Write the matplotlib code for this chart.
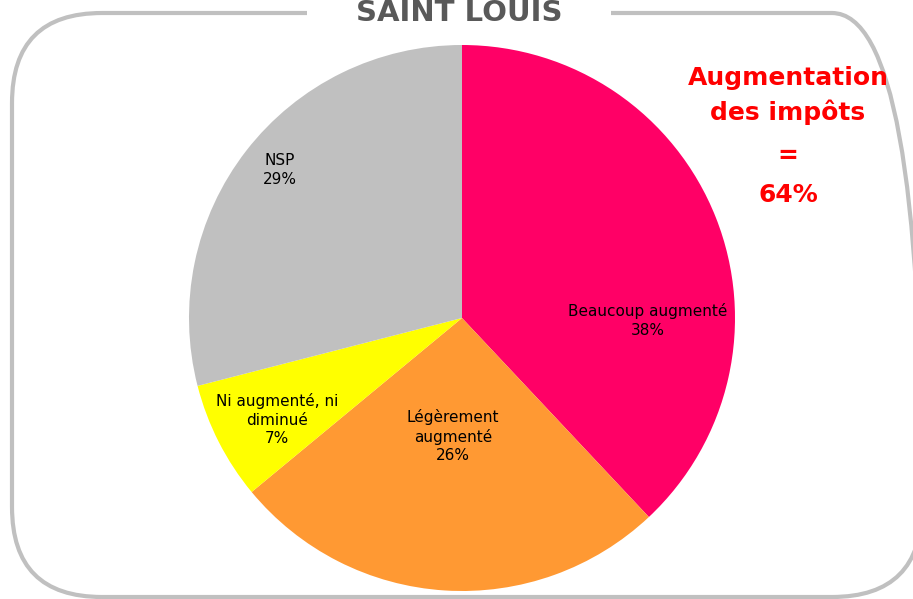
import matplotlib.pyplot as plt
from matplotlib.patches import FancyBboxPatch, Rectangle

# Répartition des réponses
labels = ["Beaucoup augmenté", "Légèrement\naugmenté", "Ni augmenté, ni\ndiminué", "NSP"]
values = [38, 26, 7, 29]
colors = ["#FF0066", "#FF9933", "#FFFF00", "#C0C0C0"]
# position des étiquettes (en rayons, par rapport au centre)
label_pos = [(0.681, -0.01), (-0.033, -0.433), (-0.678, -0.372), (-0.667, 0.543)]

W, H = 913, 599
fig = plt.figure(figsize=(W / 100, H / 100), dpi=100)
ax = fig.add_axes([0, 0, 1, 1])

cx, cy, r = 462, H - 318, 273
ax.pie(values, colors=colors, startangle=90, counterclock=False,
       center=(cx, cy), radius=r, wedgeprops=dict(linewidth=0))
ax.set_xlim(0, W)
ax.set_ylim(0, H)
ax.set_aspect("equal")
ax.axis("off")

for lab, v, (dx, dy) in zip(labels, values, label_pos):
    ax.text(cx + dx * r, cy + dy * r, f"{lab}\n{v}%", ha="center", va="center",
            fontsize=11, color="black", linespacing=1.3, family="DejaVu Sans")

# cadre arrondi (dépasse à droite et en bas)
frame = FancyBboxPatch((12, 2), 910, 584, boxstyle="round,pad=0,rounding_size=90",
                       facecolor="none", edgecolor="#C0C0C0", linewidth=3, clip_on=True)
ax.add_patch(frame)
ax.add_patch(Rectangle((307, H - 24), 304, 20, facecolor="white", edgecolor="none"))
ax.text(459, H - 13, "SAINT LOUIS", ha="center", va="center", fontsize=21,
        fontweight="bold", color="#595959")

# total des hausses
total = values[0] + values[1]
red_lines = ["Augmentation", "des impôts", "=", f"{total}%"]
red_y = [78, 112, 156, 195]
for txt, y in zip(red_lines, red_y):
    ax.text(788, H - y, txt, ha="center", va="center", fontsize=18,
            fontweight="bold", color="#FF0000")

fig.savefig("out.png", dpi=100)
